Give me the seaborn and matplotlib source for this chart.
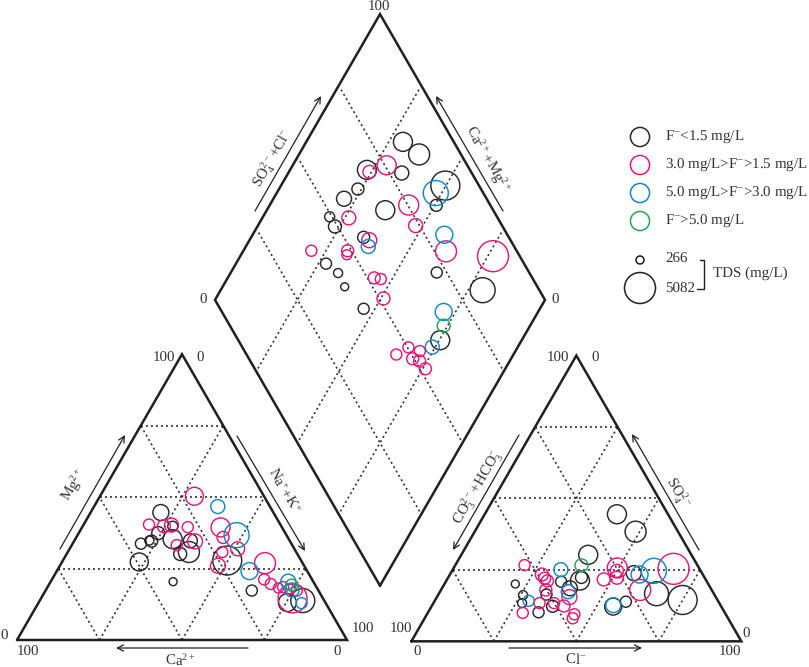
import numpy as np
import pandas as pd
import matplotlib
matplotlib.use('Agg')  # Use a non-GUI backend
import matplotlib.pyplot as plt
import seaborn as sns

# classes, same order in every panel
F_LABELS = ["low", "mid", "high", "vhigh"]
F_COLORS = {"low": "#2b2728", "mid": "#e5187a", "high": "#1189c6", "vhigh": "#1fa851"}

# cation triangle
cat_count = [16, 20, 6, 1]
cat_nak = [21.3, 27.3, 24.1, 20.7, 22.7, 23.5, 29.5, 35.2, 34.4, 36.7, 23.4, 37.1, 49.8, 62.5, 75.4, 79.7,
           28.6, 19.8, 24.6, 26.7, 32, 31.8, 36.7, 42, 44.5, 50.9, 46.8, 47.9, 61.7, 64.3, 67.1, 70.1, 71.4, 73.8, 76.1, 76.2,
           37.5, 48.2, 58.4, 72, 74.6, 79.8,
           73.6]
cat_mg = [44.6, 39.8, 37.4, 33.7, 34.8, 34.6, 35.3, 34.7, 30.1, 30.8, 27.3, 20.4, 27.8, 17.3, 13.1, 13.8,
          50.3, 40.4, 39.8, 40.2, 39.5, 33.2, 34.5, 39.4, 35.9, 31.9, 30.8, 26, 26.9, 21.2, 19.6, 18.2, 18.5, 17.8, 17.3, 14.6,
          46.7, 36.7, 24.1, 20.4, 17.5, 12.9,
          19.2]
cat_tds = [1298, 459, 829, 579, 357, 696, 1862, 975, 829, 2290, 1663, 266, 4439, 579, 1663, 3014,
           1663, 579, 829, 975, 579, 579, 1131, 1862, 696, 975, 579, 1131, 2290, 579, 579, 459, 579, 459, 579, 4439,
           975, 3280, 1475, 1131, 975, 579,
           696]

# anion triangle
an_count = [18, 18, 6, 1]
an_cl = [39.8, 48.5, 38.2, 40.1, 40.2, 34.7, 38.5, 21.2, 25.5, 26.6, 32.5, 33.2, 36.4, 55.2, 54.8, 57.8, 65.7, 74.7,
         20.7, 27.6, 29.1, 30.4, 31.5, 36.3, 31.9, 28.5, 39.8, 39.9, 44.4, 44.6, 49.3, 49.7, 50.9, 47.2, 60.1, 66.5,
         32.5, 38.6, 28.2, 54.6, 57.2, 60.9,
         38]
an_so4 = [44, 37.9, 29.8, 21.9, 20.8, 20.4, 18.1, 19.6, 15.7, 12.9, 15.9, 9.7, 11.8, 23.4, 11.7, 13.4, 16.2, 14,
          26.2, 22.9, 21.6, 20.7, 17.5, 12.9, 12.9, 9.5, 11.9, 15, 9, 7.6, 25.2, 24.2, 21.8, 21.2, 17.5, 24.9,
          24.6, 16.9, 13.7, 12.2, 22.9, 24.2,
          26.1]
an_tds = [1862, 2290, 1862, 696, 1862, 579, 1131, 266, 357, 357, 579, 579, 696, 1131, 1475, 579, 3014, 4439,
          579, 829, 696, 696, 696, 579, 579, 579, 696, 1131, 579, 579, 2070, 829, 829, 829, 2290, 5082,
          975, 975, 579, 1131, 1475, 3280,
          829]

# diamond
dia_count = [19, 20, 5, 1]
dia_sc = [84.6, 87.3, 68.8, 78.8, 62.7, 56.8, 89.8, 83.6, 67.3, 49.3, 49.2, 56, 40, 42, 41.6, 43.5, 72, 82.8, 61.2,
          75.6, 69.2, 54.9, 75.3, 73.8, 57.2, 37.8, 48.8, 47.9, 78.5, 91.9, 52.1, 53.9, 51.3, 50.3, 53.1, 45.4, 49.6, 51.3, 51.7,
          85.6, 80.9, 55.8, 67.2, 57.6,
          64.8]
dia_cm = [70.7, 63.6, 76.7, 65.6, 76.1, 78.6, 50.2, 49.5, 64.1, 79.8, 76.5, 65.9, 72.7, 67.4, 63, 53.4, 37.6, 20.6, 24.7,
          71.5, 75.6, 73.8, 57.9, 52.2, 63.7, 79.4, 68.4, 67.9, 38.5, 23.4, 55.6, 53.4, 49.2, 33.1, 29, 35.5, 29.8, 27.3, 24.2,
          51.8, 41.9, 62.9, 28.6, 25.9,
          26.2]
dia_tds = [1862, 2290, 1862, 975, 696, 1131, 4439, 696, 1862, 459, 829, 696, 579, 357, 266, 579, 579, 3280, 1862,
           1862, 829, 975, 2070, 975, 1131, 579, 696, 459, 2290, 5082, 696, 579, 829, 579, 579, 579, 696, 696, 696,
           3280, 1475, 975, 1475, 975,
           829]

# legend
tds_levels = [266, 5082]
f_texts = ["F$^{-}$<1.5 mg/L", "3.0 mg/L>F$^{-}$>1.5 mg/L", "5.0 mg/L>F$^{-}$>3.0 mg/L", "F$^{-}$>5.0 mg/L"]

SQ3 = np.sqrt(3) / 2
SCALE = 3.3  # pixels per percent
LINE = "#231f20"
TEXT = "#333333"


def u(px, py):
    # picture pixel to plot units (origin at the cation triangle's left corner)
    return (px - 17) / SCALE, (640 - py) / SCALE


def tri_xy(right, up, x0=0.0, y0=0.0):
    return x0 + np.asarray(right) + np.asarray(up) / 2, y0 + np.asarray(up) * SQ3


def dia_xy(sc, cm):
    sc, cm = np.asarray(sc), np.asarray(cm)
    return 110 + (sc - cm) / 2, 100 * SQ3 * 0.19 + (sc + cm) * SQ3


def frame(ax, xs, ys):
    ax.plot(xs, ys, color=LINE, lw=1.8, solid_joinstyle="miter", zorder=2)


def grid(ax, p, q):
    ax.plot([p[0], q[0]], [p[1], q[1]], color="#333333", lw=1.2, ls=(0, (1.2, 1.8)), zorder=1)


def circles(ax, x, y, tds, counts):
    df = pd.DataFrame({"x": x, "y": y, "tds": tds, "f": np.repeat(F_LABELS, counts)})
    sns.scatterplot(data=df, x="x", y="y", hue="f", palette=F_COLORS, size="tds",
                    sizes=(33, 498), size_norm=(266, 5082), legend=False, ax=ax, linewidth=1.05, zorder=3)
    coll = ax.collections[-1]
    coll.set_edgecolors(coll.get_facecolors())
    coll.set_facecolors("none")


def arrow(ax, start, end):
    ax.annotate("", xy=u(*end), xytext=u(*start),
                arrowprops=dict(arrowstyle="->", color=LINE, lw=0.9, shrinkA=0, shrinkB=0, mutation_scale=11))


def label(ax, px, py, s, rot=0, size=10.8, ha="center"):
    x, y = u(px, py)
    ax.text(x, y, s, rotation=rot, rotation_mode="anchor", ha=ha, va="center", fontsize=size, color=TEXT)


sns.set_style("white")
plt.rcParams['font.family'] = ['Liberation Serif', 'DejaVu Serif']
plt.rcParams['mathtext.fontset'] = 'custom'
plt.rcParams['mathtext.rm'] = 'Liberation Serif'
plt.rcParams['mathtext.it'] = 'Liberation Serif'
plt.rcParams['mathtext.default'] = 'rm'
plt.rcParams['text.hinting'] = 'none'
plt.rcParams['text.hinting_factor'] = 1

fig = plt.figure(figsize=(8.09, 6.67), dpi=100)
ax = fig.add_axes([0, 0, 1, 1])
x0, y1 = u(0, 0)
x1, y0 = u(809, 667)
ax.set_xlim(x0, x1)
ax.set_ylim(y0, y1)
ax.axis("off")

# triangles
for off, lift in ((0, 0), (119.5, -0.4)):
    frame(ax, [off, off + 100, off + 50, off], [lift, lift, lift + 100 * SQ3, lift])
    for lv in (25, 50, 75):
        grid(ax, tri_xy(0, lv, off, lift), tri_xy(100 - lv, lv, off, lift))
        grid(ax, tri_xy(lv, 0, off, lift), tri_xy(lv, 100 - lv, off, lift))
        grid(ax, tri_xy(lv, 0, off, lift), tri_xy(0, lv, off, lift))

# diamond
dx, dy = dia_xy([0, 100, 100, 0, 0], [0, 0, 100, 100, 0])
frame(ax, dx, dy)
for lv in (25, 50, 75):
    grid(ax, dia_xy(lv, 1), dia_xy(lv, 99))
    grid(ax, dia_xy(1, lv), dia_xy(99, lv))

circles(ax, *tri_xy(cat_nak, cat_mg), cat_tds, cat_count)
circles(ax, *tri_xy(an_cl, an_so4, 120), an_tds, an_count)
circles(ax, *dia_xy(dia_sc, dia_cm), dia_tds, dia_count)

# tick labels
for px, py, s in [(379, 7, "100"), (203, 300, "0"), (555, 300, "0"),
                  (164, 358, "100"), (200, 358, "0"), (4, 636, "0"), (28, 652, "100"),
                  (337, 652, "0"), (363, 629, "100"),
                  (558, 358, "100"), (595, 358, "0"), (401, 629, "100"), (417, 652, "0"),
                  (730, 652, "100"), (746, 634, "0")]:
    label(ax, px, py, s)

# axis titles and their arrows
label(ax, 180, 660, "Ca$^{2+}$")
label(ax, 576, 660, "Cl$^{-}$")
label(ax, 75, 485, "Mg$^{2+}$", 60)
label(ax, 284, 491, "Na$^{+}$+K$^{+}$", -60)
label(ax, 272, 158, "SO$_{4}^{2-}$+Cl$^{-}$", 60)
label(ax, 487, 160, "Ca$^{2+}$+Mg$^{2+}$", -60)
label(ax, 477, 487, "CO$_{3}^{2-}$+HCO$_{3}^{-}$", 60)
label(ax, 678, 492, "SO$_{4}^{2-}$", -60)

arrow(ax, (248, 648), (116, 648))
arrow(ax, (509, 648), (642, 648))
arrow(ax, (60, 549), (125, 435))
arrow(ax, (237, 436), (305, 551))
arrow(ax, (255, 211), (321, 96))
arrow(ax, (503, 211), (436, 96))
arrow(ax, (519, 435), (453, 550))
arrow(ax, (699, 550), (632, 434))

# legend
for i, (key, txt) in enumerate(zip(F_LABELS, f_texts)):
    lx, ly = u(640, 137 + 28 * i)
    sns.scatterplot(x=[lx], y=[ly], s=190, facecolors="none", edgecolor=F_COLORS[key], linewidth=1.1, ax=ax, zorder=3)
    label(ax, 665, 137 + 28 * i, txt, size=11, ha="left")

for lvl, py, dia in zip(tds_levels, (260, 288), (8, 31)):
    lx, ly = u(640, py)
    sns.scatterplot(x=[lx], y=[ly], s=(dia * 0.72) ** 2, facecolors="none", edgecolor=LINE, linewidth=1.1, ax=ax, zorder=3)

label(ax, 665, 259, str(tds_levels[0]), size=11, ha="left")
label(ax, 665, 289, str(tds_levels[1]), size=11, ha="left")
label(ax, 713, 273, "TDS (mg/L)", size=11, ha="left")
bx, by = zip(u(700, 260), u(704, 260), u(704, 289), u(697, 289))
ax.plot(bx, by, color=LINE, lw=1.0)

fig.savefig("out.png", dpi=100)
